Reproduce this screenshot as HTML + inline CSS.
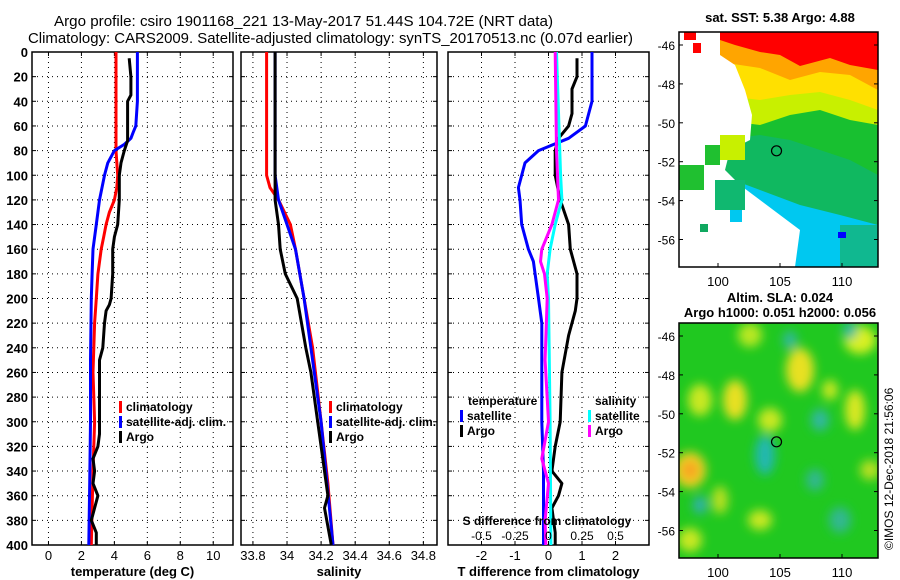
<!DOCTYPE html>
<html><head><meta charset="utf-8"><style>
body{margin:0;background:#fff;}
svg{display:block;font-family:"Liberation Sans",sans-serif;font-weight:bold;}
</style></head><body>
<svg id="c" width="900" height="580" viewBox="0 0 900 580">
<text x="54" y="26" font-size="15" font-weight="normal" textLength="499" lengthAdjust="spacingAndGlyphs">Argo profile: csiro 1901168_221 13-May-2017 51.44S 104.72E (NRT data)</text>
<text x="28" y="43" font-size="15" font-weight="normal" textLength="605" lengthAdjust="spacingAndGlyphs">Climatology: CARS2009. Satellite-adjusted climatology: synTS_20170513.nc (0.07d earlier)</text>
<g id="panels"></g>
<g id="maps"></g>
<text transform="translate(893,550) rotate(-90)" font-size="12" font-weight="normal">©IMOS 12-Dec-2018 21:56:06</text>
</svg>
<script>
// ---- depth axis ----
const depthTicks=[0,20,40,60,80,100,120,140,160,180,200,220,240,260,280,300,320,340,360,380,400];
// ---- temperature panel data ----
const tempTicks=[0,2,4,6,8,10];
const climTDepth=[0,20,40,60,80,100,110,120,130,140,150,160,180,200,220,260,300,340,400];
const climT=[4.1,4.1,4.1,4.1,4.1,4.2,4.15,4.0,3.7,3.5,3.35,3.2,3.0,2.9,2.8,2.7,2.8,2.7,2.6];
const satTDepth=[0,40,60,65,70,75,80,90,100,120,140,160,180,200,250,300,350,400];
const satT=[5.4,5.4,5.3,5.15,5.0,4.6,4.0,3.6,3.4,3.1,2.9,2.7,2.65,2.6,2.55,2.55,2.5,2.45];
const argoTDepth=[5,20,35,40,60,72,80,90,100,120,140,150,160,180,200,205,210,220,240,250,280,310,320,330,340,350,360,370,380,390,400];
const argoT=[4.9,5.0,5.0,4.8,4.8,4.8,4.6,4.4,4.3,4.3,4.2,4.0,3.9,3.9,3.8,3.7,3.5,3.4,3.3,3.1,3.1,3.1,3.0,2.7,2.8,2.7,3.0,2.8,2.6,2.9,2.9];
// ---- salinity panel data ----
const salTicks=[33.8,34,34.2,34.4,34.6,34.8];
const salTickLabels=["33.8","34","34.2","34.4","34.6","34.8"];
const climSDepth=[0,100,110,120,140,160,200,240,300,350,400];
const climS=[33.88,33.88,33.9,33.95,34.02,34.05,34.1,34.15,34.2,34.24,34.27];
const satSDepth=[0,100,120,140,160,200,300,400];
const satS=[33.93,33.93,33.95,34.0,34.05,34.1,34.2,34.27];
const argoSDepth=[0,120,140,160,180,200,240,260,300,320,360,370,400];
const argoS=[33.93,33.93,33.95,33.96,33.99,34.06,34.11,34.14,34.18,34.2,34.24,34.22,34.26];
// ---- difference panel data ----
const dTTicks=[-2,-1,0,1,2];
const dSTicks=[-0.5,-0.25,0,0.25,0.5];
const dSTickLabels=["-0.5","-0.25","0","0.25","0.5"];
const satDTDepth=[0,40,60,70,80,90,110,120,140,160,170,180,200,220,260,300,340,400];
const satDT=[1.3,1.3,1.1,0.6,-0.3,-0.7,-0.9,-0.85,-0.8,-0.6,-0.45,-0.4,-0.3,-0.2,-0.2,-0.2,-0.15,-0.15];
const argoDTDepth=[5,20,30,50,60,70,80,100,120,140,160,180,200,210,230,260,300,320,340,350,360,370,390,400];
const argoDT=[0.85,0.85,0.7,0.7,0.6,0.3,0.2,0.2,0.35,0.6,0.65,0.85,0.85,0.8,0.6,0.4,0.35,0.2,0.1,0.4,0.3,0.1,0.2,0.2];
const satDSDepth=[0,100,120,140,160,180,200,300,400];
const satDS=[0.06,0.09,0.1,0.05,0.012,-0.01,0,0.012,0.018];
const argoDSDepth=[0,80,120,140,160,170,180,200,250,300,330,350,380,400];
const argoDS=[0.05,0.06,0.075,0.025,-0.05,-0.06,-0.03,-0.01,-0.025,0,-0.05,0,-0.025,-0.02];
// ---- map axes ----
const lonTicks=[100,105,110];
const latTicks=[-46,-48,-50,-52,-54,-56];
const argoLon=104.72, argoLat=-51.44;

const NS="http://www.w3.org/2000/svg";
function mk(tag,attrs,parent){const e=document.createElementNS(NS,tag);for(const k in attrs)e.setAttribute(k,attrs[k]);parent.appendChild(e);return e;}
const Y0=52,Y1=545;
const yS=d=>Y0+(d/400)*(Y1-Y0);
const panels=document.getElementById('panels');

function panel(name,x0,x1,dmin,dmax,ticks,labels,showY,xtitle){
  const g=mk('g',{},panels);
  
  
  const xS=v=>x0+(v-dmin)/(dmax-dmin)*(x1-x0);
  depthTicks.forEach(d=>{const l=mk('line',{x1:x0,x2:x1,y1:yS(d),y2:yS(d),stroke:'#000','stroke-width':1,'stroke-dasharray':'1,4'},g);
    
    mk('line',{x1:x0,x2:x0+4,y1:yS(d),y2:yS(d),stroke:'#000'},g);mk('line',{x1:x1-4,x2:x1,y1:yS(d),y2:yS(d),stroke:'#000'},g);
    if(showY){const t=mk('text',{x:x0-4,y:yS(d)+5,'font-size':13,'text-anchor':'end'},g);t.textContent=d;
      }});
  ticks.forEach((v,i)=>{const l=mk('line',{x1:xS(v),x2:xS(v),y1:Y0,y2:Y1,stroke:'#000','stroke-width':1,'stroke-dasharray':'1,4'},g);
    
    mk('line',{x1:xS(v),x2:xS(v),y1:Y1-4,y2:Y1,stroke:'#000'},g);mk('line',{x1:xS(v),x2:xS(v),y1:Y0,y2:Y0+4,stroke:'#000'},g);
    const t=mk('text',{x:xS(v),y:Y1+15,'font-size':13,'text-anchor':'middle','font-weight':'normal'},g);t.textContent=labels[i];
    });
  const r=mk('rect',{x:x0,y:Y0,width:x1-x0,height:Y1-Y0,fill:'none',stroke:'#000','stroke-width':1.5},g);
  
  const t=mk('text',{x:(x0+x1)/2,y:Y1+31,'font-size':13,'text-anchor':'middle'},g);t.textContent=xtitle;
  
  return {g,xS};
}
function line(p,depths,vals,color,name,scale){
  const s=scale||(v=>v);
  const pts=depths.map((d,i)=>p.xS(s(vals[i])).toFixed(1)+','+yS(d).toFixed(1)).join(' ');
  const l=mk('polyline',{points:pts,fill:'none',stroke:color,'stroke-width':3,'stroke-linejoin':'round'},p.g);
  
  
}
function legend(g,x,y,items){
  items.forEach((it,i)=>{mk('rect',{x:x,y:y+i*15-10,width:3,height:12,fill:it[0]},g);
    const t=mk('text',{x:x+7,y:y+i*15,'font-size':12},g);t.textContent=it[1];
    });
}
const p1=panel('temperature-panel',32,233,-1,11.2,tempTicks,tempTicks.map(String),true,'temperature (deg C)');
line(p1,climTDepth,climT,'#f00','climatology-temp-line');
line(p1,satTDepth,satT,'#00f','satellite-temp-line');
line(p1,argoTDepth,argoT,'#000','argo-temp-line');
legend(p1.g,119,411,[['#f00','climatology'],['#00f','satellite-adj. clim.'],['#000','Argo']]);
const p2=panel('salinity-panel',241,437,33.73,34.88,salTicks,salTickLabels,false,'salinity');
line(p2,climSDepth,climS,'#f00','climatology-salinity-line');
line(p2,satSDepth,satS,'#00f','satellite-salinity-line');
line(p2,argoSDepth,argoS,'#000','argo-salinity-line');
legend(p2.g,329,411,[['#f00','climatology'],['#00f','satellite-adj. clim.'],['#000','Argo']]);
const p3=panel('difference-panel',448,649,-3,3,dTTicks,dTTicks.map(String),false,'T difference from climatology');
line(p3,satDTDepth,satDT,'#00f','satellite-temp-diff-line');
line(p3,argoDTDepth,argoDT,'#000','argo-temp-diff-line');
line(p3,satDSDepth,satDS,'#0ff','satellite-salinity-diff-line',v=>v*4);
line(p3,argoDSDepth,argoDS,'#f0f','argo-salinity-diff-line',v=>v*4);
{const t=mk('text',{x:468,y:405,'font-size':12},p3.g);t.textContent='temperature';
 const t2=mk('text',{x:595,y:405,'font-size':12},p3.g);t2.textContent='salinity';}
legend(p3.g,460,420,[['#00f','satellite'],['#000','Argo']]);
legend(p3.g,588,420,[['#0ff','satellite'],['#f0f','Argo']]);
{const t=mk('text',{x:547,y:525,'font-size':12,'text-anchor':'middle'},p3.g);t.textContent='S difference from climatology';
 
 dSTicks.forEach((v,i)=>{const l=mk('text',{x:p3.xS(v*4),y:540,'font-size':12,'text-anchor':'middle','font-weight':'normal'},p3.g);l.textContent=dSTickLabels[i];
  });}

// ---- maps ----
const maps=document.getElementById('maps');
function mapFrame(name,top,bottom,titles,titleY){
  const g=mk('g',{},maps);
  
  
  const x0=679,x1=878;
  const lonS=v=>718+(v-100)*12.4;
  const latS=v=>(top+13)+(-46-v)*19.45;
  return {g,x0,x1,top,bottom,lonS,latS,finish(){
    mk('rect',{x:x0,y:top,width:x1-x0,height:bottom-top,fill:'none',stroke:'#000','stroke-width':1.5},g);
    lonTicks.forEach(v=>{mk('line',{x1:lonS(v),x2:lonS(v),y1:bottom,y2:bottom-4,stroke:'#000'},g);
      const t=mk('text',{x:lonS(v),y:bottom+19,'font-size':13,'text-anchor':'middle','font-weight':'normal'},g);t.textContent=v;
      });
    latTicks.forEach(v=>{mk('line',{x1:x1,x2:x1-4,y1:latS(v),y2:latS(v),stroke:'#000'},g);
      mk('line',{x1:x0,x2:x0+4,y1:latS(v),y2:latS(v),stroke:'#000'},g);
      const t=mk('text',{x:x0-4,y:latS(v)+5,'font-size':12,'font-weight':'normal','text-anchor':'end'},g);t.textContent=v;
      });
    const c=mk('circle',{cx:lonS(argoLon),cy:latS(argoLat),r:5,fill:'none',stroke:'#000','stroke-width':1.2},g);
    
    titles.forEach((tt,i)=>{const t=mk('text',{x:780,y:titleY+i*15,'font-size':13,'text-anchor':'middle'},g);t.textContent=tt;
      });
  }};
}
const m1=mapFrame('sst-map',32,267,['sat. SST: 5.38 Argo: 4.88'],22);
{const g=m1.g;
 mk('rect',{x:679,y:32,width:199,height:235,fill:'#00c8f0'},g);
 mk('polygon',{points:'679,32 878,32 878,225 840,215 800,205 760,190 720,175 679,170',fill:'#10b860'},g);
 mk('polygon',{points:'679,32 878,32 878,175 850,160 820,150 790,140 760,135 720,140 679,140',fill:'#18c030'},g);
 mk('polygon',{points:'679,32 878,32 878,125 850,120 820,110 790,115 760,125 720,120 679,120',fill:'#c8f000'},g);
 mk('polygon',{points:'679,32 878,32 878,110 850,100 820,92 790,95 760,100 720,95 679,95',fill:'#ffe000'},g);
 mk('polygon',{points:'679,32 878,32 878,90 850,75 820,72 790,80 760,68 720,62 679,60',fill:'#ffa500'},g);
 mk('polygon',{points:'720,32 878,32 878,70 850,65 830,58 800,66 780,55 760,52 735,45 720,40',fill:'#ff0000'},g);
 mk('rect',{x:840,y:225,width:38,height:42,fill:'#10b890'},g);
 mk('rect',{x:838,y:232,width:8,height:6,fill:'#0000ff'},g);
 mk('rect',{x:786,y:258,width:6,height:9,fill:'#0000ff'},g);
 const w=mk('polygon',{points:'679,32 720,32 720,55 735,65 745,90 752,115 750,140 730,150 725,170 740,185 760,200 780,215 800,230 795,267 679,267',fill:'#fff'},g);
 
 mk('rect',{x:684,y:32,width:12,height:8,fill:'#f00'},g);
 mk('rect',{x:693,y:43,width:8,height:10,fill:'#f00'},g);
 mk('rect',{x:720,y:135,width:25,height:25,fill:'#c8f000'},g);
 mk('rect',{x:679,y:165,width:25,height:25,fill:'#20c030'},g);
 mk('rect',{x:705,y:145,width:15,height:20,fill:'#20c030'},g);
 mk('rect',{x:715,y:180,width:30,height:30,fill:'#10b870'},g);
 mk('rect',{x:700,y:224,width:8,height:8,fill:'#10a860'},g);
 mk('rect',{x:730,y:210,width:12,height:12,fill:'#00c8f0'},g);
}
m1.finish();
const m2=mapFrame('sla-map',323,558,['Altim. SLA: 0.024','Argo h1000: 0.051 h2000: 0.056'],302);
{const g=m2.g;
 const defs=mk('defs',{},g);
 const f=mk('filter',{id:'bl',x:'-50%',y:'-50%',width:'200%',height:'200%'},defs);
 mk('feGaussianBlur',{stdDeviation:5},f);
 const cp=mk('clipPath',{id:'cp'},defs);mk('rect',{x:679,y:323,width:199,height:235},cp);
 mk('rect',{x:679,y:323,width:199,height:235,fill:'#20c820'},g);
 const b=mk('g',{filter:'url(#bl)','clip-path':'url(#cp)'},g);
 
 [[690,470,16,18,'#f0d020'],[690,470,8,9,'#f8a020'],[735,400,12,20,'#e8e020'],[800,370,14,22,'#e8e020'],[860,340,16,14,'#d8f020'],
  [700,400,12,16,'#c8e820'],[770,420,12,12,'#c8e820'],[855,410,10,20,'#d8e820'],[760,520,12,10,'#c8e820'],[690,540,12,12,'#c8e820'],
  [720,500,8,14,'#b8e020'],[870,470,10,10,'#b8e020'],[830,390,8,10,'#c8e820'],[750,335,12,12,'#b8e820']].forEach(a=>mk('ellipse',{cx:a[0],cy:a[1],rx:a[2],ry:a[3],fill:a[4]},b));
 [[765,455,10,20,'#20b8b0'],[700,505,7,9,'#30b0b0'],[790,340,7,9,'#30b8a0'],[820,420,9,11,'#30b8a0'],[850,330,7,9,'#30b8a0'],
  [840,520,11,13,'#30b890'],[815,480,9,11,'#30b890']].forEach(a=>mk('ellipse',{cx:a[0],cy:a[1],rx:a[2],ry:a[3],fill:a[4]},b));
}
m2.finish();
</script>
</body></html>
